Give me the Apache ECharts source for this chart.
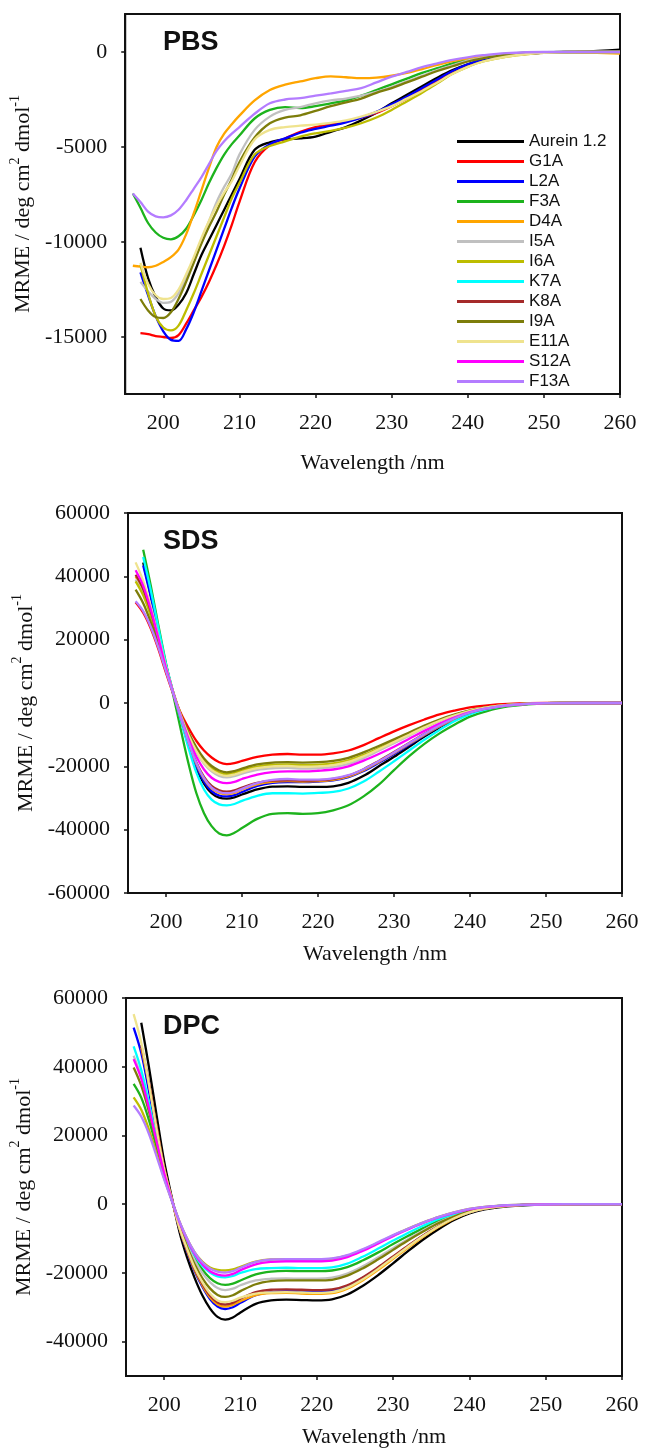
<!DOCTYPE html>
<html><head><meta charset="utf-8">
<script src="https://cdn.jsdelivr.net/npm/echarts@6/dist/echarts.min.js"></script>
<style>html,body{margin:0;padding:0;background:#fff}#c{width:646px;height:1449px}</style>
</head><body><div id="c"></div>
<script>
const names = ['Aurein 1.2','G1A','L2A','F3A','D4A','I5A','I6A','K7A','K8A','I9A','E11A','S12A','F13A'];
const colors = ['#000000','#ff0000','#0000ff','#1db31d','#ffa500','#c0c0c0','#bdbd00','#00ffff','#a52a2a','#7d7d0a','#efe38e','#ff00ff','#b47cff'];
const WL = [196,197,198,199,200,201,202,203,204,205,206,207,208,209,210,212,214,216,218,220,222,224,226,228,230,232,234,236,238,240,242,245,250,255,260];
const xTicks = [200,210,220,230,240,250,260];
const yTicksPBS = [-15000,-10000,-5000,0];
const yTicksSDS = [-60000,-40000,-20000,0,20000,40000,60000];
const yTicksDPC = [-40000,-20000,0,20000,40000,60000];

// PBS
const pbsAurein = [null,-10300,-11900,-12900,-13500,-13600,-13300,-12700,-11700,-10700,-9900,-9100,-8300,-7500,-6700,-5150,-4750,-4600,-4550,-4450,-4200,-3950,-3600,-3200,-2700,-2250,-1800,-1350,-950,-650,-420,-200,-30,20,130];
const pbsG1A = [null,-14800,-14850,-14950,-15000,-15050,-14900,-14300,-13600,-12900,-12100,-11200,-10200,-9100,-7900,-5800,-4900,-4550,-4200,-3950,-3800,-3650,-3450,-3200,-2850,-2450,-2000,-1550,-1050,-700,-450,-220,-30,0,-20];
const pbsL2A = [null,-11600,-12800,-13900,-14700,-15150,-15200,-14600,-13700,-12600,-11500,-10400,-9300,-8200,-7200,-5500,-4850,-4550,-4250,-4050,-3880,-3700,-3450,-3150,-2750,-2350,-1900,-1450,-1000,-650,-420,-200,-30,0,0];
const pbsF3A = [-7450,-8200,-9000,-9500,-9780,-9860,-9700,-9300,-8600,-7800,-6900,-6100,-5400,-4850,-4400,-3500,-3050,-2900,-2950,-2850,-2700,-2550,-2300,-2000,-1700,-1400,-1100,-850,-600,-400,-260,-100,-10,0,0];
const pbsD4A = [-11250,-11300,-11330,-11250,-11050,-10800,-10400,-9600,-8500,-7300,-6100,-5000,-4300,-3800,-3350,-2550,-2000,-1720,-1550,-1380,-1280,-1330,-1380,-1350,-1250,-1100,-900,-680,-480,-350,-250,-130,-10,-30,-80];
const pbsI5A = [null,-12100,-12600,-13000,-13200,-13150,-12700,-11900,-10900,-9900,-8900,-7900,-7100,-6400,-5400,-4100,-3400,-3050,-2900,-2700,-2550,-2450,-2300,-2100,-1850,-1550,-1250,-950,-700,-450,-300,-130,-20,0,0];
const pbsI6A = [null,-11200,-12700,-13900,-14500,-14650,-14400,-13600,-12700,-11700,-10700,-9700,-8700,-7700,-6900,-5400,-4950,-4700,-4450,-4280,-4150,-3980,-3750,-3450,-3050,-2600,-2150,-1650,-1150,-780,-500,-250,-40,0,0];
const pbsK7A = [];
const pbsK8A = [];
const pbsI9A = [null,-13000,-13600,-13950,-14000,-13700,-13000,-12100,-11100,-10100,-9200,-8400,-7500,-6700,-5800,-4500,-3750,-3450,-3330,-3100,-2850,-2650,-2450,-2150,-1900,-1600,-1300,-1000,-750,-500,-330,-150,-20,0,0];
const pbsE11A = [null,-11100,-12200,-12800,-13000,-12950,-12500,-11700,-10800,-9800,-8900,-8100,-7400,-6800,-6000,-4600,-4100,-3950,-3880,-3820,-3730,-3600,-3400,-3150,-2850,-2450,-2050,-1600,-1150,-780,-500,-250,-40,0,0];
const pbsS12A = [];
const pbsF13A = [-7450,-7900,-8400,-8650,-8700,-8600,-8300,-7800,-7200,-6600,-5900,-5200,-4700,-4300,-3950,-3250,-2700,-2500,-2430,-2300,-2180,-2050,-1900,-1600,-1300,-1050,-800,-600,-420,-280,-170,-60,0,0,0];

// SDS
const sdsAurein = [null,44400,34000,22800,11900,2800,-5500,-13700,-20600,-25500,-28500,-29900,-30200,-29800,-28900,-27300,-26400,-26300,-26500,-26500,-26300,-25200,-23000,-20000,-17000,-13800,-10600,-7700,-5100,-3100,-1900,-750,-50,0,0];
const sdsG1A = [31800,28500,23500,17000,9500,2500,-3500,-8000,-12000,-15000,-17200,-18700,-19300,-19000,-18300,-17000,-16300,-16100,-16300,-16300,-15900,-15000,-13300,-11100,-8950,-7000,-5200,-3600,-2400,-1400,-800,-300,0,0,0];
const sdsL2A = [null,43400,33500,22500,11800,2800,-5300,-13300,-20000,-24800,-27800,-29200,-29500,-29100,-28100,-26200,-25200,-25000,-25000,-24800,-24400,-23400,-21500,-18900,-16100,-13200,-10200,-7400,-5000,-3100,-1900,-800,-60,0,0];
const sdsF3A = [null,48400,37000,24500,12500,2000,-9000,-19500,-28500,-34800,-38900,-41200,-41800,-41000,-39500,-36600,-35000,-34800,-35000,-34800,-33900,-32300,-29500,-25800,-21200,-16800,-12900,-9600,-6800,-4300,-2700,-1100,-100,0,0];
const sdsD4A = [40000,35500,28500,20000,11000,2700,-5100,-12800,-19300,-24000,-27000,-28400,-28800,-28400,-27400,-25700,-24900,-24700,-24800,-24700,-24300,-23200,-21200,-18600,-15800,-12900,-10000,-7300,-5000,-3100,-1900,-800,-60,0,0];
const sdsI5A = [39000,34500,28000,20000,11000,3000,-4400,-10500,-15500,-19200,-21600,-23000,-23500,-23100,-22300,-21100,-20600,-20500,-20700,-20600,-20200,-19200,-17400,-15100,-12700,-10300,-7900,-5700,-3900,-2500,-1500,-600,-50,0,0];
const sdsI6A = [38400,34000,27500,19500,11000,3000,-4200,-10000,-14800,-18300,-20600,-22000,-22500,-22100,-21300,-20100,-19500,-19400,-19600,-19500,-19100,-18100,-16400,-14300,-12100,-9800,-7600,-5500,-3800,-2400,-1500,-600,-50,0,0];
const sdsK7A = [null,46100,35500,23700,12300,3000,-5800,-14500,-22000,-27300,-30500,-32000,-32300,-31900,-30900,-29300,-28500,-28500,-28600,-28400,-28100,-27000,-24800,-21700,-18400,-15000,-11600,-8500,-5700,-3500,-2100,-850,-60,0,0];
const sdsK8A = [40500,36000,29000,20300,11000,2700,-5000,-12500,-18800,-23300,-26200,-27600,-28000,-27600,-26700,-25200,-24500,-24400,-24500,-24400,-24000,-22900,-20900,-18300,-15500,-12600,-9700,-7100,-4800,-3000,-1800,-750,-60,0,0];
const sdsI9A = [35800,31500,25500,18500,10500,3000,-4000,-9500,-14000,-17500,-19900,-21300,-21900,-21500,-20700,-19400,-18800,-18700,-18800,-18700,-18300,-17300,-15600,-13600,-11500,-9300,-7100,-5200,-3600,-2300,-1400,-600,-50,0,0];
const sdsE11A = [44400,38500,30500,21000,11500,3000,-4300,-10300,-15200,-18800,-21200,-22500,-23000,-22600,-21800,-20600,-20000,-19900,-20100,-20000,-19600,-18600,-16800,-14600,-12300,-10000,-7700,-5600,-3900,-2500,-1500,-600,-50,0,0];
const sdsS12A = [41900,37000,29500,20500,11000,2800,-4800,-11500,-17000,-21000,-23600,-24900,-25300,-24900,-24000,-22600,-21800,-21600,-21600,-21400,-21000,-20000,-18200,-16100,-13800,-11300,-8800,-6500,-4500,-2900,-1800,-750,-60,0,0];
const sdsF13A = [32100,29000,24000,17500,10000,2600,-5000,-12600,-19000,-23700,-26700,-28100,-28500,-28100,-27100,-25300,-24300,-24000,-24200,-24200,-23800,-22800,-20900,-18400,-15600,-12700,-9800,-7100,-4800,-3000,-1800,-750,-60,0,0];

// DPC
const dpcAurein = [null,52800,40000,26000,12500,2000,-8000,-15500,-21500,-26500,-30300,-32800,-33600,-33000,-31500,-29000,-28000,-27800,-27900,-28000,-27700,-26300,-23800,-20700,-17200,-13600,-10200,-7200,-4600,-2700,-1500,-600,-100,0,0];
const dpcG1A = [];
const dpcL2A = [51400,44000,33000,21000,10000,1500,-7000,-13800,-19500,-24000,-27600,-29800,-30500,-30000,-28700,-26500,-25600,-25400,-25400,-25400,-25200,-23900,-21500,-18600,-15400,-12200,-9100,-6400,-4100,-2400,-1300,-500,-80,0,0];
const dpcF3A = [35000,31000,24500,16500,8500,1200,-5500,-11000,-15500,-19000,-21500,-23000,-23500,-23100,-22200,-20400,-19600,-19400,-19500,-19500,-19300,-18300,-16400,-14100,-11600,-9200,-6900,-4800,-3100,-1800,-1000,-380,-50,0,0];
const dpcD4A = [null,45600,35000,22500,10500,1500,-7000,-13500,-19200,-23600,-27100,-29200,-29800,-29300,-28200,-26500,-25900,-25800,-26000,-26100,-25900,-24600,-22200,-19200,-15900,-12600,-9400,-6600,-4200,-2400,-1300,-500,-80,0,0];
const dpcI5A = [43200,37000,28500,18800,9200,1300,-5800,-11500,-16300,-20000,-22700,-24400,-25000,-24600,-23600,-22200,-21700,-21600,-21700,-21700,-21400,-20200,-18100,-15500,-12800,-10100,-7600,-5300,-3400,-2000,-1100,-420,-60,0,0];
const dpcI6A = [31100,27500,21800,14800,7600,1100,-5000,-10000,-14000,-16700,-18400,-19100,-19300,-19000,-18200,-16700,-16100,-16000,-16100,-16100,-15900,-15000,-13300,-11300,-9100,-7100,-5300,-3700,-2400,-1400,-800,-300,-40,0,0];
const dpcK7A = [45900,39000,29500,19000,9200,1200,-5300,-10500,-14800,-17900,-19900,-21000,-21300,-20900,-20000,-18900,-18600,-18500,-18600,-18600,-18400,-17300,-15300,-13000,-10600,-8300,-6200,-4300,-2800,-1600,-900,-350,-50,0,0];
const dpcK8A = [null,46300,35500,22800,10600,1500,-6900,-13300,-18900,-23200,-26600,-28600,-29200,-28700,-27500,-25600,-24900,-24800,-24900,-25000,-24800,-23600,-21300,-18400,-15200,-12000,-9000,-6300,-4000,-2300,-1300,-500,-80,0,0];
const dpcI9A = [39800,34500,27000,18000,9000,1300,-6200,-12300,-17500,-21500,-24500,-26400,-27000,-26500,-25300,-23300,-22400,-22200,-22200,-22200,-22000,-20800,-18700,-16100,-13300,-10500,-7900,-5500,-3600,-2100,-1200,-450,-70,0,0];
const dpcE11A = [55300,47000,35000,22000,10200,1500,-6800,-13000,-18500,-22700,-26000,-28000,-28500,-28100,-27200,-26000,-25700,-25600,-25700,-25800,-25600,-24300,-21900,-18900,-15600,-12300,-9200,-6400,-4100,-2400,-1300,-500,-80,0,0];
const dpcS12A = [42200,36500,28000,18300,9000,1200,-5200,-10300,-14500,-17500,-19500,-20500,-20800,-20300,-19200,-17500,-16800,-16600,-16600,-16600,-16400,-15400,-13600,-11500,-9300,-7300,-5400,-3800,-2500,-1500,-850,-330,-50,0,0];
const dpcF13A = [28700,25500,20500,14000,7200,1000,-5000,-10000,-14000,-16900,-18700,-19600,-19900,-19500,-18500,-16800,-16100,-16000,-16000,-16000,-15800,-14800,-13100,-11100,-9000,-7100,-5300,-3700,-2400,-1400,-800,-300,-40,0,0];

const panels = [
  {label:'PBS', sets:[pbsAurein,pbsG1A,pbsL2A,pbsF3A,pbsD4A,pbsI5A,pbsI6A,pbsK7A,pbsK8A,pbsI9A,pbsE11A,pbsS12A,pbsF13A], min:-18000, max:2000, ticks:yTicksPBS,
   grid:{left:125,right:26,top:14,height:380}, nameGap:58, labelTop:24},
  {label:'SDS', sets:[sdsAurein,sdsG1A,sdsL2A,sdsF3A,sdsD4A,sdsI5A,sdsI6A,sdsK7A,sdsK8A,sdsI9A,sdsE11A,sdsS12A,sdsF13A], min:-60000, max:60000, ticks:yTicksSDS,
   grid:{left:128,right:24,top:513,height:380}, nameGap:50, labelTop:523},
  {label:'DPC', sets:[dpcAurein,dpcG1A,dpcL2A,dpcF3A,dpcD4A,dpcI5A,dpcI6A,dpcK7A,dpcK8A,dpcI9A,dpcE11A,dpcS12A,dpcF13A], min:-50000, max:60000, ticks:yTicksDPC,
   grid:{left:126,right:24,top:998,height:380}, nameGap:50, labelTop:1008}
];

const serif = 'Liberation Serif';
const axisTxt = {fontFamily:serif, fontSize:22, color:'#111'};
const grids=[], xAxes=[], yAxes=[], series=[], titles=[];
panels.forEach((p,k)=>{
  grids.push(Object.assign({show:true, borderColor:'#111', borderWidth:2, backgroundColor:'transparent'}, p.grid));
  xAxes.push({type:'value', gridIndex:k, min:195, max:260,
    name:'Wavelength /nm', nameLocation:'middle', nameGap:p.nameGap, nameTextStyle:axisTxt,
    axisLine:{show:true, onZero:false, lineStyle:{color:'#111', width:2}},
    axisTick:{show:true, inside:false, length:4, customValues:xTicks, lineStyle:{color:'#111', width:1.5}},
    axisLabel:Object.assign({margin:18, customValues:xTicks, formatter:v=>String(v)}, axisTxt),
    splitLine:{show:false}});
  yAxes.push({type:'value', gridIndex:k, min:p.min, max:p.max,
    name:'{a|MRME / deg cm}{s|2}{a| dmol}{s|-1}', nameLocation:'middle', nameGap:86, nameRotate:90,
    nameTextStyle:{rich:{a:{fontFamily:serif, fontSize:22, color:'#111', lineHeight:26, verticalAlign:'bottom'}, s:{fontFamily:serif, fontSize:14, color:'#111', lineHeight:26, verticalAlign:'top'}}},
    axisLine:{show:true, onZero:false, lineStyle:{color:'#111', width:2}},
    axisTick:{show:true, inside:false, length:4, customValues:p.ticks, lineStyle:{color:'#111', width:1.5}},
    axisLabel:Object.assign({margin:18, customValues:p.ticks, formatter:v=>String(v)}, axisTxt),
    splitLine:{show:false}});
  titles.push({text:p.label, left:158, top:p.labelTop, textStyle:{fontFamily:'Liberation Sans', fontWeight:'bold', fontSize:27, color:'#111'}});
  p.sets.forEach((arr,i)=>{
    const data=[];
    arr.forEach((v,j)=>{ if(v!==null && v!==undefined) data.push([WL[j], v]); });
    series.push({name:names[i], type:'line', xAxisIndex:k, yAxisIndex:k, data, smooth:0.35,
      showSymbol:false, symbol:'none', lineStyle:{width:2.3, color:colors[i]}, itemStyle:{color:colors[i]},
      emphasis:{disabled:true}, z:2+i});
  });
});

const chart = echarts.init(document.getElementById('c'), null, {renderer:'canvas'});
chart.setOption({
  animation:false,
  backgroundColor:'#fff',
  title:titles,
  legend:{data:names, orient:'vertical', left:452, top:128, icon:'rect', itemWidth:67, itemHeight:3, itemGap:3,
    textStyle:{fontFamily:'Liberation Sans', fontSize:17, color:'#111', lineHeight:15}, selectedMode:false},
  grid:grids, xAxis:xAxes, yAxis:yAxes, series
});
</script></body></html>
